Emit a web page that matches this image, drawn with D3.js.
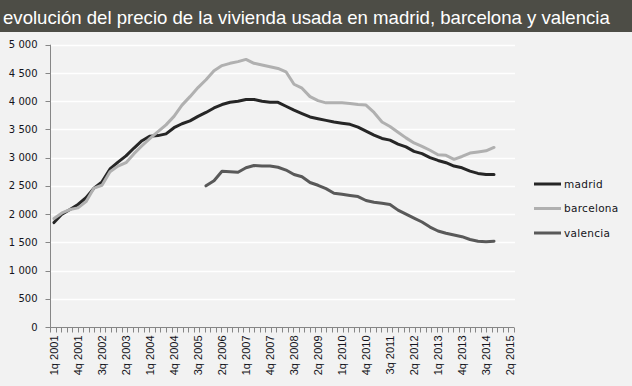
<!DOCTYPE html>
<html>
<head>
<meta charset="utf-8">
<script src="https://cdn.jsdelivr.net/npm/d3@7"></script>
<style>
  body { margin: 0; background: #f2f2f2; }
  svg { display: block; }
</style>
</head>
<body>
<div id="chart"></div>
<script>
// precio vivienda usada, trimestral

var years = d3.range(2001, 2016);
var quarters = [];
years.forEach(function(y) {
	for (var q = 1; q <= 4; q++) quarters.push(q + "q " + y);
});
quarters = quarters.slice(0, quarters.indexOf("2q 2015") + 1);

var madrid = [1850, 2000, 2080, 2170, 2290, 2460, 2570, 2800, 2920, 3030,
	3170, 3300, 3380, 3390, 3420, 3530, 3600, 3650, 3730, 3800,
	3880, 3940, 3980, 4000, 4030, 4030, 4000, 3980, 3980, 3910,
	3840, 3780, 3720, 3690, 3660, 3630, 3610, 3590, 3540, 3470,
	3400, 3340, 3310, 3240, 3190, 3110, 3070, 3000, 2950, 2910,
	2850, 2820, 2760, 2720, 2700, 2700];

var barcelona = [1920, 2020, 2080, 2110, 2220, 2460, 2510, 2750, 2850, 2910,
	3070, 3210, 3340, 3460, 3580, 3730, 3930, 4080, 4240, 4380,
	4540, 4630, 4670, 4700, 4740, 4670, 4640, 4610, 4580, 4520,
	4300, 4230, 4080, 4010, 3970, 3970, 3970, 3960, 3940, 3930,
	3800, 3630, 3550, 3450, 3350, 3260, 3200, 3130, 3050, 3040,
	2970, 3020, 3080, 3100, 3120, 3180];

// valencia empieza en 4q 2005
var valencia = [null, null, null, null, null, null, null, null, null, null,
	null, null, null, null, null, null, null, null, null, 2500,
	2590, 2760, 2750, 2740, 2820, 2860, 2850, 2850, 2830, 2780,
	2700, 2660, 2560, 2510, 2450, 2370, 2350, 2330, 2310, 2240,
	2210, 2190, 2170, 2070, 2000, 1930, 1860, 1770, 1700, 1660,
	1630, 1600, 1550, 1520, 1510, 1520];

var seriesNames = ["madrid", "barcelona", "valencia"];
var seriesColors = ["#262626", "#b0b0b0", "#595959"];
var yTicks = d3.range(0, 5001, 500);

var width = 632, height = 386;
var title = "evolución del precio de la vivienda usada en madrid, barcelona y valencia";

var svg = d3.select("#chart").append("svg")
	.attr("width", width)
	.attr("height", height);

svg.append("rect").attr("width", width).attr("height", height).attr("fill", "#f2f2f2");

// title bar
svg.append("rect").attr("width", width).attr("height", 32).attr("fill", "#4d4d46");
svg.append("text")
	.attr("x", 3).attr("y", 24)
	.attr("fill", "#ffffff")
	.attr("font-family", "Liberation Sans, Arial, sans-serif")
	.attr("font-size", 18.6)
	.text(title);

var x = d3.scalePoint().domain(quarters).range([50, 514]).padding(0.5);
var y = d3.scaleLinear().domain([0, 5000]).range([327, 44.7]);

var fmt = d3.formatLocale({ decimal: ",", thousands: " ", grouping: [3], currency: ["", "€"] }).format(",d");

// gridlines
svg.append("g").selectAll("line")
	.data(yTicks.filter(function(d) { return d > 0; }))
	.enter().append("line")
	.attr("x1", 50).attr("x2", 515)
	.attr("y1", function(d) { return Math.round(y(d)) + 0.5; })
	.attr("y2", function(d) { return Math.round(y(d)) + 0.5; })
	.attr("stroke", "#ffffff")
	.attr("stroke-width", 1.3);

// y axis
var yAxis = svg.append("g").attr("transform", "translate(50.5,0)");
yAxis.append("line").attr("y1", y(5000)).attr("y2", y(0)).attr("stroke", "#868686");
yAxis.selectAll("line.tk").data(yTicks).enter().append("line")
	.attr("class", "tk")
	.attr("x1", -5).attr("x2", 0)
	.attr("y1", function(d) { return Math.round(y(d)) + 0.5; })
	.attr("y2", function(d) { return Math.round(y(d)) + 0.5; })
	.attr("stroke", "#868686");
yAxis.selectAll("text").data(yTicks).enter().append("text")
	.attr("x", -13)
	.attr("y", function(d) { return y(d); })
	.attr("dy", "0.36em")
	.attr("text-anchor", "end")
	.attr("font-family", "DejaVu Sans, Verdana, sans-serif")
	.attr("font-size", 10)
	.attr("fill", "#141420")
	.text(function(d) { return fmt(d); });

// x axis
var x0 = 50, x1 = 514;
var xAxis = svg.append("g").attr("transform", "translate(0,327.5)");
xAxis.append("line").attr("x1", x0).attr("x2", x1).attr("stroke", "#868686");
var nMinor = 84;
xAxis.selectAll("line.tk").data(d3.range(0, nMinor + 1)).enter().append("line")
	.attr("class", "tk")
	.attr("x1", function(i) { return Math.round(x0 + (x1 - x0) * i / nMinor) + 0.5; })
	.attr("x2", function(i) { return Math.round(x0 + (x1 - x0) * i / nMinor) + 0.5; })
	.attr("y1", 0).attr("y2", 5)
	.attr("stroke", "#868686");
xAxis.selectAll("text")
	.data(quarters.filter(function(d, i) { return i % 3 == 0; }))
	.enter().append("text")
	.attr("transform", function(d) { return "translate(" + x(d) + ",8) rotate(-90)"; })
	.attr("dy", "0.36em")
	.attr("text-anchor", "end")
	.attr("font-family", "Liberation Sans, Arial, sans-serif")
	.attr("font-size", 11)
	.attr("fill", "#141420")
	.text(function(d) { return d; });

// lines
var line = d3.line()
	.defined(function(d) { return d != null; })
	.x(function(d, i) { return x(quarters[i]); })
	.y(function(d) { return y(d); });

[madrid, barcelona, valencia].forEach(function(s, k) {
	svg.append("path")
		.datum(s)
		.attr("d", line)
		.attr("fill", "none")
		.attr("stroke", seriesColors[k])
		.attr("stroke-width", 3)
		.attr("stroke-linejoin", "round")
		.attr("stroke-linecap", "round");
});

// legend
var legend = svg.append("g").selectAll("g")
	.data(seriesNames)
	.enter().append("g")
	.attr("transform", function(d, i) { return "translate(534," + (184 + i * 24.5) + ")"; });
legend.append("line")
	.attr("x1", 0).attr("x2", 27)
	.attr("stroke", function(d, i) { return seriesColors[i]; })
	.attr("stroke-width", 3);
legend.append("text")
	.attr("x", 30)
	.attr("dy", "0.36em")
	.attr("font-family", "DejaVu Sans, Verdana, sans-serif")
	.attr("font-size", 10.5)
	.attr("letter-spacing", 0.3)
	.attr("fill", "#141420")
	.text(function(d) { return d; });
</script>
</body>
</html>
